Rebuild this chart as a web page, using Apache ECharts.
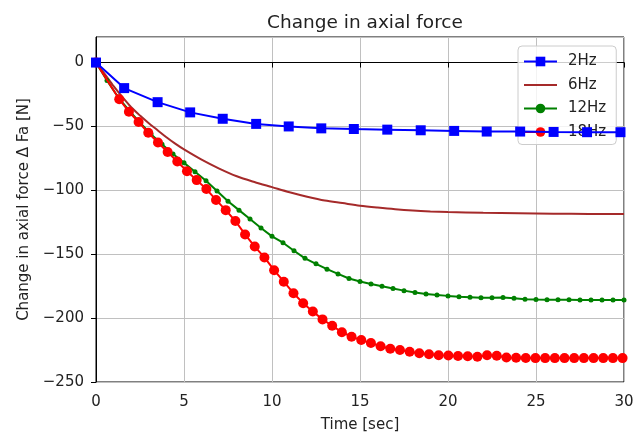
<!DOCTYPE html>
<html>
<head>
<meta charset="utf-8">
<script src="https://cdn.jsdelivr.net/npm/echarts@6/dist/echarts.min.js"></script>
<style>
  html, body { margin: 0; padding: 0; background: #fff; }
  #chart { width: 637px; height: 433px; }
</style>
</head>
<body>
<div id="chart"></div>
<script>
// 2Hz - square markers
const t2Hz = [0, 1.6, 3.5, 5.35, 7.2, 9.1, 10.95, 12.8, 14.65, 16.55, 18.45, 20.35, 22.2, 24.1, 26.0, 27.9, 29.8];
const f2Hz = [0, -20, -31, -39, -44, -48, -50, -51.5, -52, -52.5, -53, -53.5, -54, -54, -54.3, -54.5, -54.5];

// 6Hz - plain line
const t6Hz = [0, 0.5, 1, 1.5, 2, 2.5, 3, 3.5, 4, 4.5, 5, 6, 7, 8, 9, 10, 11, 12, 13, 14, 15, 16, 17, 18, 19, 20, 22, 24, 26, 28, 30];
const f6Hz = [0, -9, -18.5, -27, -35, -41.5, -47.5, -53, -58.5, -63.5, -68, -76, -83, -89, -93.5, -97.5, -101.5, -105, -108, -110, -112, -113.5, -114.8, -115.8, -116.5, -117, -117.6, -118, -118.3, -118.5, -118.6];

// 12Hz - small dots
const t12Hz = [0, 0.625, 1.25, 1.875, 2.5, 3.125, 3.75, 4.375, 5, 5.625, 6.25, 6.875, 7.5, 8.125, 8.75, 9.375, 10,
  10.625, 11.25, 11.875, 12.5, 13.125, 13.75, 14.375, 15, 15.625, 16.25, 16.875, 17.5, 18.125, 18.75, 19.375, 20,
  20.625, 21.25, 21.875, 22.5, 23.125, 23.75, 24.375, 25, 25.625, 26.25, 26.875, 27.5, 28.125, 28.75, 29.375, 30];
const f12Hz = [0, -14, -27, -37.5, -47, -56, -64, -71.5, -78.5, -85.5, -92.5, -100.5, -108.5, -115.5, -122.5, -129.5, -136,
  -141, -147.3, -153.2, -157.5, -161.7, -165.4, -169, -171.3, -173.3, -175, -176.8, -178.5, -180, -181.2, -181.9, -182.6,
  -183.2, -183.6, -184, -184, -183.9, -184.5, -185.2, -185.5, -185.6, -185.7, -185.7, -185.8, -185.8, -185.8, -185.8, -185.8];

// 18Hz - big circles
const t18Hz = [0, 1.32, 1.87, 2.42, 2.97, 3.52, 4.07, 4.62, 5.17, 5.72, 6.27, 6.82, 7.37, 7.92, 8.47, 9.02, 9.57,
  10.12, 10.67, 11.22, 11.77, 12.32, 12.87, 13.42, 13.97, 14.52, 15.07, 15.62, 16.17, 16.72, 17.27, 17.82, 18.37,
  18.92, 19.47, 20.02, 20.57, 21.12, 21.67, 22.22, 22.77, 23.32, 23.87, 24.42, 24.97, 25.52, 26.07, 26.62, 27.17,
  27.72, 28.27, 28.82, 29.37, 29.92];
const f18Hz = [0, -28.7, -38.5, -46.5, -55, -62.5, -70, -77.5, -85, -92, -99, -107.5, -115.5, -124, -134.5, -144, -152.5,
  -162.5, -171.5, -180.5, -188.3, -194.8, -201, -206, -211, -214.6, -217.2, -219.5, -222, -224, -225, -226.3, -227.5,
  -228.3, -229, -229.2, -229.6, -229.8, -230.2, -229, -229.5, -230.8, -231, -231.2, -231.3, -231.3, -231.3, -231.3, -231.3,
  -231.3, -231.3, -231.3, -231.3, -231.3];

const xTicks = [0, 5, 10, 15, 20, 25, 30];
const yTicks = [-250, -200, -150, -100, -50, 0];

const pairs = (xs, ys) => xs.map((x, i) => [x, ys[i]]);
const FONT = 'DejaVu Sans';
const TXT = '#222';
const minus = v => (v < 0 ? '\u2212' + (-v) : String(v));

const chart = echarts.init(document.getElementById('chart'), null, { renderer: 'canvas' });

chart.setOption({
  animation: false,
  backgroundColor: '#fff',
  textStyle: { fontFamily: FONT, color: TXT },
  title: {
    text: 'Change in axial force',
    left: 360,
    textAlign: 'center',
    top: 9,
    textStyle: { fontFamily: FONT, fontSize: 18.5, fontWeight: 'normal', color: TXT }
  },
  grid: {
    left: 96, right: 13, top: 37, bottom: 51,
    outerBoundsMode: 'none',
    show: true, borderColor: '#000', borderWidth: 1, backgroundColor: 'transparent'
  },
  legend: {
    orient: 'vertical',
    left: 518, top: 46,
    padding: [8, 10, 5, 5],
    itemWidth: 33, itemHeight: 12, itemGap: 8.5,
    backgroundColor: 'rgba(255,255,255,0.8)',
    borderColor: '#ccc', borderWidth: 1, borderRadius: 4,
    textStyle: { fontFamily: FONT, fontSize: 15, color: TXT, padding: [0, 0, 0, 6] },
    // 6Hz has no markers, so hide its legend symbol
    data: ['2Hz', { name: '6Hz', itemStyle: { opacity: 0 } }, '12Hz', '18Hz']
  },
  xAxis: {
    type: 'value',
    min: 0, max: 30, interval: 5,
    name: 'Time [sec]',
    nameLocation: 'middle',
    nameGap: 35.5,
    nameTextStyle: { fontFamily: FONT, fontSize: 15, color: TXT },
    axisLine: { lineStyle: { color: '#000', width: 1 } },
    axisTick: { show: true, length: 5, lineStyle: { color: '#000' } },
    axisLabel: { fontFamily: FONT, fontSize: 15, color: TXT, margin: 12.5,
      formatter: v => (xTicks.includes(v) ? minus(v) : '') },
    splitLine: { show: true, lineStyle: { color: '#c0c0c0', width: 1 } }
  },
  yAxis: {
    type: 'value',
    min: -250, max: 20, interval: 50,
    name: 'Change in axial force \u0394 Fa [N]',
    nameLocation: 'middle',
    nameGap: 64.5,
    nameTextStyle: { fontFamily: FONT, fontSize: 15, color: TXT },
    axisLine: { show: true, lineStyle: { color: '#000', width: 1 } },
    axisTick: { show: true, length: 5, lineStyle: { color: '#000' } },
    axisLabel: { fontFamily: FONT, fontSize: 15, color: TXT, margin: 12, showMaxLabel: false,
      formatter: v => (yTicks.includes(v) ? minus(v) : '') },
    splitLine: { show: true, lineStyle: { color: '#c0c0c0', width: 1 } }
  },
  series: [
    {
      name: '2Hz', type: 'line', data: pairs(t2Hz, f2Hz),
      symbol: 'rect', symbolSize: 10, z: 5,
      lineStyle: { color: '#0000ff', width: 2 },
      itemStyle: { color: '#0000ff' }
    },
    {
      name: '6Hz', type: 'line', data: pairs(t6Hz, f6Hz),
      symbol: 'none', smooth: 0.3, z: 3,
      lineStyle: { color: '#a52a2a', width: 2 },
      itemStyle: { color: '#a52a2a' }
    },
    {
      name: '12Hz', type: 'line', data: pairs(t12Hz, f12Hz),
      symbol: 'circle', symbolSize: 5, z: 3,
      lineStyle: { color: '#008000', width: 2 },
      itemStyle: { color: '#008000' }
    },
    {
      name: '18Hz', type: 'line', data: pairs(t18Hz, f18Hz),
      symbol: 'circle', symbolSize: 10, z: 4,
      lineStyle: { color: '#ff0000', width: 2 },
      itemStyle: { color: '#ff0000' }
    }
  ]
});

window.addEventListener('resize', () => chart.resize());
</script>
</body>
</html>
